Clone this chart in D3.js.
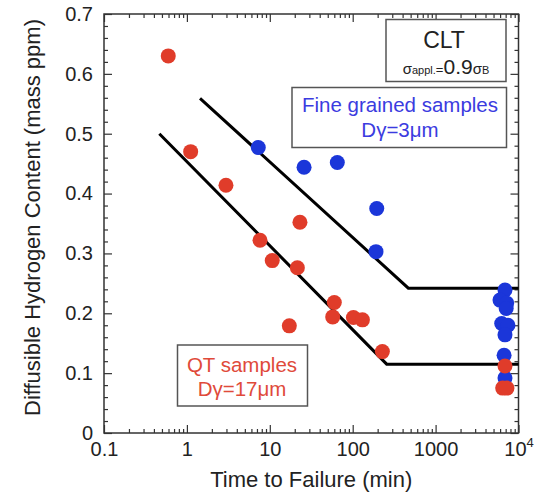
<!DOCTYPE html>
<html>
<head>
<meta charset="utf-8">
<script src="https://cdn.jsdelivr.net/npm/d3@7"></script>
<style>
  body { margin: 0; background: #fff; }
  svg text { font-family: "Liberation Sans", Arial, Helvetica, sans-serif; }
</style>
</head>
<body>
<div id="chart"></div>
<script>
// DATA
const qtTime = [0.596, 1.11, 2.96, 7.62, 10.7, 23.1, 21.5, 17.2, 60, 57.4, 102, 131, 228, 6870, 6440, 7260];
const qtH = [0.630, 0.470, 0.414, 0.322, 0.288, 0.352, 0.276, 0.179, 0.218, 0.194, 0.193, 0.189, 0.136, 0.112, 0.075, 0.075];

const fineTime = [7.26, 25.9, 65.2, 195, 191, 6870, 5980, 7210, 7100, 6270, 7460, 6870, 6700, 6870];
const fineH = [0.477, 0.444, 0.452, 0.375, 0.303, 0.239, 0.222, 0.217, 0.208, 0.183, 0.180, 0.164, 0.130, 0.092];

const qtLineTime = [0.465, 257, 10000];
const qtLineH = [0.50, 0.115, 0.115];
const fineLineTime = [1.44, 469, 10000];
const fineLineH = [0.559, 0.242, 0.242];

const xTicks = [0.1, 1, 10, 100, 1000, 10000];
const yTicks = [0, 0.1, 0.2, 0.3, 0.4, 0.5, 0.6, 0.7];

const WIDTH = 541, HEIGHT = 493;
const MARGIN = { LEFT: 104, RIGHT: 22.5, TOP: 14, BOTTOM: 60 };
const W = WIDTH - MARGIN.LEFT - MARGIN.RIGHT;
const H = HEIGHT - MARGIN.TOP - MARGIN.BOTTOM;

const RED = "#e03c2a", BLUE = "#1b36d9";

const svg = d3.select("#chart")
  .append("svg")
  .attr("width", WIDTH)
  .attr("height", HEIGHT);

const g = svg.append("g")
  .attr("transform", `translate(${MARGIN.LEFT}, ${MARGIN.TOP})`);

const x = d3.scaleLog().domain([0.1, 10000]).range([0, W]);
const y = d3.scaleLinear().domain([0, 0.7]).range([H, 0]);

// minor ticks
const xMinor = [];
for (let p = -1; p < 4; p++) for (let m = 2; m <= 9; m++) xMinor.push(m * Math.pow(10, p));
const yMinor = d3.range(0, 0.7001, 0.02).filter(v => Math.abs(v * 10 - Math.round(v * 10)) > 1e-6);

function styleAxis(sel) {
  sel.select(".domain").remove();
  sel.selectAll(".tick line").attr("stroke", "#333").attr("stroke-width", 1.2);
}

// minor tick axes (all four sides)
g.append("g").attr("transform", `translate(0, ${H})`)
  .call(d3.axisBottom(x).tickValues(xMinor).tickSize(-4).tickFormat("")).call(styleAxis);
g.append("g")
  .call(d3.axisTop(x).tickValues(xMinor).tickSize(-4).tickFormat("")).call(styleAxis);
g.append("g")
  .call(d3.axisLeft(y).tickValues(yMinor).tickSize(-4).tickFormat("")).call(styleAxis);
g.append("g").attr("transform", `translate(${W}, 0)`)
  .call(d3.axisRight(y).tickValues(yMinor).tickSize(-4).tickFormat("")).call(styleAxis);

// major axes
const xAxis = g.append("g").attr("transform", `translate(0, ${H})`)
  .call(d3.axisBottom(x).tickValues(xTicks).tickSize(-8).tickPadding(9)
    .tickFormat(d => d === 10000 ? "" : String(d)))
  .call(styleAxis);
xAxis.selectAll(".tick text").attr("font-size", 20).attr("fill", "#222");
const last = xAxis.selectAll(".tick text").filter(d => d === 10000);
last.append("tspan").text("10");
last.append("tspan").attr("font-size", 13).attr("dy", "-0.7em").text("4");

g.append("g").call(d3.axisTop(x).tickValues(xTicks).tickSize(-8).tickFormat("")).call(styleAxis);

const yAxis = g.append("g")
  .call(d3.axisLeft(y).tickValues(yTicks).tickSize(-8).tickPadding(11)
    .tickFormat(d => d === 0 ? "0" : d3.format(".1f")(d)))
  .call(styleAxis);
yAxis.selectAll(".tick text").attr("font-size", 20).attr("fill", "#222");

g.append("g").attr("transform", `translate(${W}, 0)`)
  .call(d3.axisRight(y).tickValues(yTicks).tickSize(-8).tickFormat("")).call(styleAxis);

// frame
g.append("rect")
  .attr("width", W).attr("height", H)
  .attr("fill", "none").attr("stroke", "#333").attr("stroke-width", 1.5);

// axis labels
g.append("text")
  .attr("x", W / 2).attr("y", H + 54)
  .attr("text-anchor", "middle").attr("font-size", 22).attr("fill", "#222")
  .text("Time to Failure (min)");

g.append("text")
  .attr("transform", "rotate(-90)")
  .attr("x", -H / 2 + 6).attr("y", -64)
  .attr("text-anchor", "middle").attr("font-size", 22).attr("fill", "#222")
  .text("Diffusible Hydrogen Content (mass ppm)");

// trend lines
const line = d3.line().x(d => x(d[0])).y(d => y(d[1]));
[[fineLineTime, fineLineH], [qtLineTime, qtLineH]].forEach(([t, h]) => {
  g.append("path")
    .datum(t.map((v, i) => [v, h[i]]))
    .attr("d", line)
    .attr("fill", "none").attr("stroke", "#000").attr("stroke-width", 3);
});

// points
g.selectAll(".fine")
  .data(fineTime.map((v, i) => [v, fineH[i]]))
  .enter().append("circle")
  .attr("class", "fine")
  .attr("cx", d => x(d[0])).attr("cy", d => y(d[1])).attr("r", 7.5)
  .attr("fill", BLUE);

g.selectAll(".qt")
  .data(qtTime.map((v, i) => [v, qtH[i]]))
  .enter().append("circle")
  .attr("class", "qt")
  .attr("cx", d => x(d[0])).attr("cy", d => y(d[1])).attr("r", 7.5)
  .attr("fill", RED);

// LEGEND BOXES
function box(x0, y0, w, h) {
  svg.append("rect")
    .attr("x", x0).attr("y", y0).attr("width", w).attr("height", h)
    .attr("fill", "#fff").attr("stroke", "#555").attr("stroke-width", 1.5);
}

box(386, 19.5, 120, 62);
svg.append("text").attr("x", 444).attr("y", 48)
  .attr("text-anchor", "middle").attr("font-size", 23).attr("fill", "#222").text("CLT");
const s = svg.append("text").attr("x", 446).attr("y", 74)
  .attr("text-anchor", "middle").attr("fill", "#222");
s.append("tspan").attr("font-size", 15).text("σ");
s.append("tspan").attr("font-size", 11).text("appl.");
s.append("tspan").attr("font-size", 13).text("=");
s.append("tspan").attr("font-size", 21).text("0.9");
s.append("tspan").attr("font-size", 15).text("σ");
s.append("tspan").attr("font-size", 11).text("B");

box(292, 87.5, 214.5, 60);
svg.append("text").attr("x", 400).attr("y", 112)
  .attr("text-anchor", "middle").attr("font-size", 20.5).attr("fill", "#3b3be0")
  .text("Fine grained samples");
svg.append("text").attr("x", 400).attr("y", 137)
  .attr("text-anchor", "middle").attr("font-size", 20.5).attr("fill", "#3b3be0")
  .text("Dγ=3μm");

box(177.5, 345, 130, 61);
svg.append("text").attr("x", 242).attr("y", 372)
  .attr("text-anchor", "middle").attr("font-size", 20.5).attr("fill", "#e04a3a")
  .text("QT samples");
svg.append("text").attr("x", 242).attr("y", 396)
  .attr("text-anchor", "middle").attr("font-size", 20.5).attr("fill", "#e04a3a")
  .text("Dγ=17μm");
</script>
</body>
</html>
